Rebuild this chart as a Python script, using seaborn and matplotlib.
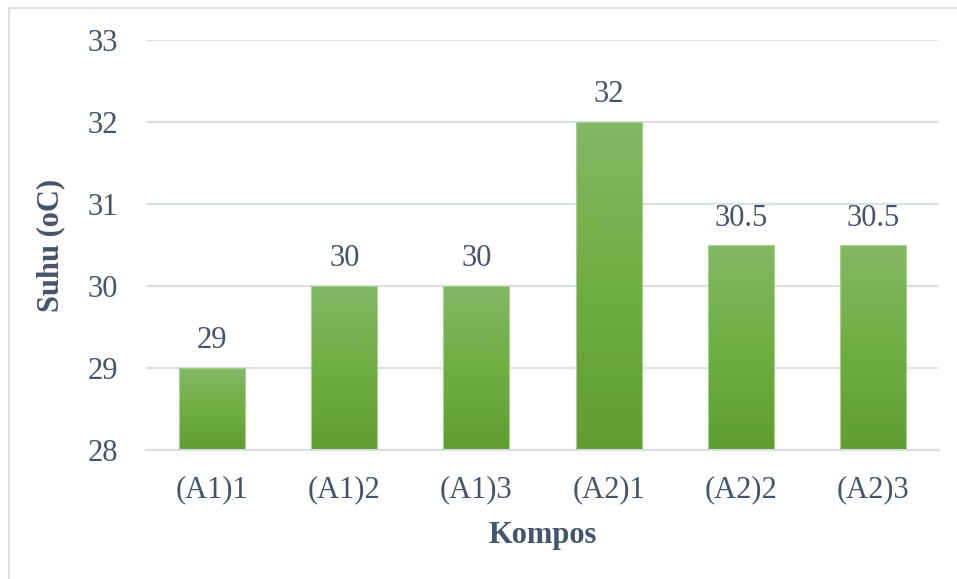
import numpy as np
import pandas as pd
import matplotlib
matplotlib.use("Agg")
import matplotlib.pyplot as plt
import seaborn as sns
from matplotlib.colors import LinearSegmentedColormap
from matplotlib.lines import Line2D

categories = ["(A1)1", "(A1)2", "(A1)3", "(A2)1", "(A2)2", "(A2)3"]
values = [29, 30, 30, 32, 30.5, 30.5]
value_labels = ["29", "30", "30", "32", "30.5", "30.5"]
y_ticks = [28, 29, 30, 31, 32, 33]

sns.set_theme(style="white")
plt.rcParams['font.family'] = ['Liberation Serif', 'DejaVu Serif']

TEXT = "#44546a"
GRID = "#dadfe6"

df = pd.DataFrame({"Kompos": categories, "Suhu": values})

fig = plt.figure(figsize=(9.57, 5.79), dpi=100)
W, H = 957, 579
ax = fig.add_axes([146 / W, 1 - 450 / H, (939 - 146) / W, (450 - 40) / H])

sns.barplot(data=df, x="Kompos", y="Suhu", ax=ax, color="#70ad47",
            width=0.5, edgecolor="#a9d18e", linewidth=0.8, zorder=2)

ax.set_ylim(28, 33)
ax.set_xlim(-0.5, len(categories) - 0.5)

# gradient fill clipped to bars
cmap = LinearSegmentedColormap.from_list("g", ["#5f9d33", "#6fae42", "#83b866"])
grad = np.linspace(0, 1, 256).reshape(-1, 1)
for p in ax.patches:
    x0, y0 = p.get_x(), p.get_y()
    w, h = p.get_width(), p.get_height()
    im = ax.imshow(grad, cmap=cmap, origin="lower", aspect="auto",
                   extent=[x0, x0 + w, 28, y0 + h], zorder=2.5)
    im.set_clip_path(p)
    p.set_facecolor("none")
    p.set_zorder(3)
ax.set_xlim(-0.5, len(categories) - 0.5)
ax.set_ylim(28, 33)

# value labels
for i, (v, lab) in enumerate(zip(values, value_labels)):
    ax.annotate(lab, (i, v), xytext=(0, 9), textcoords="offset points",
                ha="center", va="bottom", fontsize=22, color=TEXT)

ax.set_yticks(y_ticks)
ax.yaxis.grid(True, color=GRID, linewidth=1.5, zorder=0)
ax.set_axisbelow(True)
for s in ["top", "right", "left"]:
    ax.spines[s].set_visible(False)
ax.spines["bottom"].set_color(GRID)
ax.spines["bottom"].set_linewidth(1.5)

ax.set_xticks(np.arange(-0.5, len(categories), 1.0), minor=True)
ax.tick_params(axis="x", which="minor", length=8, width=1.5, color=GRID, direction="out")
ax.tick_params(axis="x", which="major", length=0, pad=18, labelsize=22, labelcolor=TEXT)
ax.tick_params(axis="y", length=0, pad=20, labelsize=22, labelcolor=TEXT)

ax.set_xlabel("Kompos", fontsize=22, fontweight="bold", color=TEXT, labelpad=12)
ax.set_ylabel("Suhu (oC)", fontsize=22, fontweight="bold", color=TEXT, labelpad=16)

# outer chart frame (left and top edges)
fig.add_artist(Line2D([8.5 / W, 8.5 / W], [0, 1 - 7.5 / H], transform=fig.transFigure,
                      color=GRID, linewidth=1.5))
fig.add_artist(Line2D([8.5 / W, 1], [1 - 7.5 / H, 1 - 7.5 / H], transform=fig.transFigure,
                      color=GRID, linewidth=1.5))

fig.savefig("out.png", dpi=100)
